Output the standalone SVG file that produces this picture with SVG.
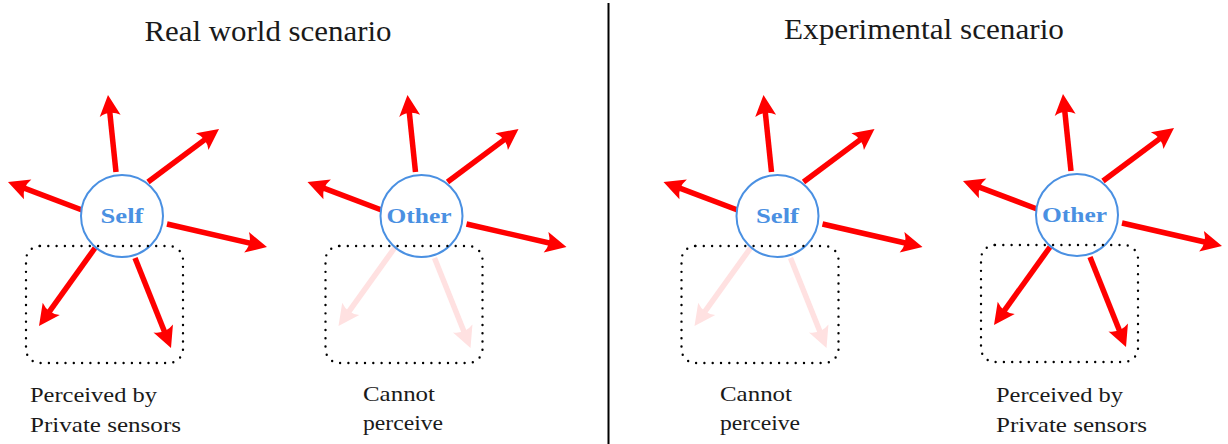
<svg xmlns="http://www.w3.org/2000/svg" width="1228" height="444" viewBox="0 0 1228 444">
<style>
.title{font-family:"Liberation Serif","Times New Roman",serif;font-size:29px;fill:#1a1a1a}
.lbl{font-family:"Liberation Serif","Times New Roman",serif;font-size:21px;fill:#1a1a1a}
.node circle{fill:#fff;stroke:#4a90e2;stroke-width:2}
.node text{font-family:"Liberation Serif","Times New Roman",serif;font-weight:bold;font-size:22px;fill:#4a90e2;text-anchor:middle}
.box{fill:none;stroke:#000;stroke-width:2.4;stroke-dasharray:0 8.3;stroke-linecap:round}
.a{stroke:#ff0000;stroke-width:5.5;fill:none;marker-end:url(#ah)}
.f{stroke:#ffe1e1;stroke-width:5.5;fill:none;marker-end:url(#ahf)}
</style>
<defs>
<marker id="ah" markerUnits="userSpaceOnUse" orient="auto" overflow="visible" markerWidth="30" markerHeight="30" refX="0" refY="0">
<path d="M11,0 L-10,-10.5 Q-4,0 -10,10.5 Z" fill="#ff0000"/>
</marker>
<marker id="ahf" markerUnits="userSpaceOnUse" orient="auto" overflow="visible" markerWidth="30" markerHeight="30" refX="0" refY="0">
<path d="M11,0 L-10,-10.5 Q-4,0 -10,10.5 Z" fill="#ffe1e1"/>
</marker>
<g id="up6">
<line x1="-6" y1="-44" x2="-12.87" y2="-110.05"/>
<line x1="26" y1="-34" x2="88.19" y2="-80.42"/>
<line x1="-40" y1="-6" x2="-103.72" y2="-30.11"/>
<line x1="45" y1="8" x2="134.28" y2="28.54"/>
</g>
<g id="low2">
<line x1="-27" y1="32" x2="-76.59" y2="101.06"/>
<line x1="13" y1="42" x2="44.92" y2="121.78"/>
</g>
</defs>

<line x1="608.5" y1="3" x2="608.5" y2="444" stroke="#000" stroke-width="2"/>

<text class="title" x="268" y="41" text-anchor="middle" textLength="247" lengthAdjust="spacingAndGlyphs">Real world scenario</text>
<text class="title" x="924" y="39" text-anchor="middle" textLength="280" lengthAdjust="spacingAndGlyphs">Experimental scenario</text>

<g id="connectors">
<use href="#up6" class="a" transform="translate(122,216)"/>
<use href="#low2" class="a" transform="translate(122,216)"/>
<use href="#up6" class="a" transform="translate(421.5,216)"/>
<use href="#low2" class="f" transform="translate(421.5,216)"/>
<use href="#up6" class="a" transform="translate(777.5,216)"/>
<use href="#low2" class="f" transform="translate(777.5,216)"/>
<use href="#up6" class="a" transform="translate(1077,215)"/>
<use href="#low2" class="a" transform="translate(1077,215)"/>
</g>

<g id="self-real" class="node">
<circle cx="122" cy="216" r="41"/>
<text x="122" y="223" textLength="43" lengthAdjust="spacingAndGlyphs">Self</text>
</g>
<g id="other-real" class="node">
<circle cx="421.5" cy="216" r="41"/>
<text x="419" y="223" textLength="65" lengthAdjust="spacingAndGlyphs">Other</text>
</g>
<g id="self-exp" class="node">
<circle cx="777.5" cy="216" r="41"/>
<text x="777.5" y="223" textLength="43" lengthAdjust="spacingAndGlyphs">Self</text>
</g>
<g id="other-exp" class="node">
<circle cx="1077" cy="215" r="41"/>
<text x="1074.5" y="222" textLength="65" lengthAdjust="spacingAndGlyphs">Other</text>
</g>

<g id="box-real-self"><rect class="box" x="26" y="246" width="157" height="117" rx="14"/></g>
<g id="box-real-other"><rect class="box" x="325.5" y="246" width="157" height="117" rx="14"/></g>
<g id="box-exp-self"><rect class="box" x="681.5" y="246" width="157" height="117" rx="14"/></g>
<g id="box-exp-other"><rect class="box" x="981" y="245" width="157" height="117" rx="14"/></g>

<g id="label-real-self">
<text class="lbl" x="30" y="402" textLength="127" lengthAdjust="spacingAndGlyphs">Perceived by</text>
<text class="lbl" x="30" y="432" textLength="151" lengthAdjust="spacingAndGlyphs">Private sensors</text>
</g>
<g id="label-real-other">
<text class="lbl" x="363" y="401" textLength="72" lengthAdjust="spacingAndGlyphs">Cannot</text>
<text class="lbl" x="363" y="430" textLength="80" lengthAdjust="spacingAndGlyphs">perceive</text>
</g>
<g id="label-exp-self">
<text class="lbl" x="720" y="401" textLength="72" lengthAdjust="spacingAndGlyphs">Cannot</text>
<text class="lbl" x="720" y="430" textLength="80" lengthAdjust="spacingAndGlyphs">perceive</text>
</g>
<g id="label-exp-other">
<text class="lbl" x="996" y="402" textLength="127" lengthAdjust="spacingAndGlyphs">Perceived by</text>
<text class="lbl" x="996" y="432" textLength="151" lengthAdjust="spacingAndGlyphs">Private sensors</text>
</g>
</svg>
